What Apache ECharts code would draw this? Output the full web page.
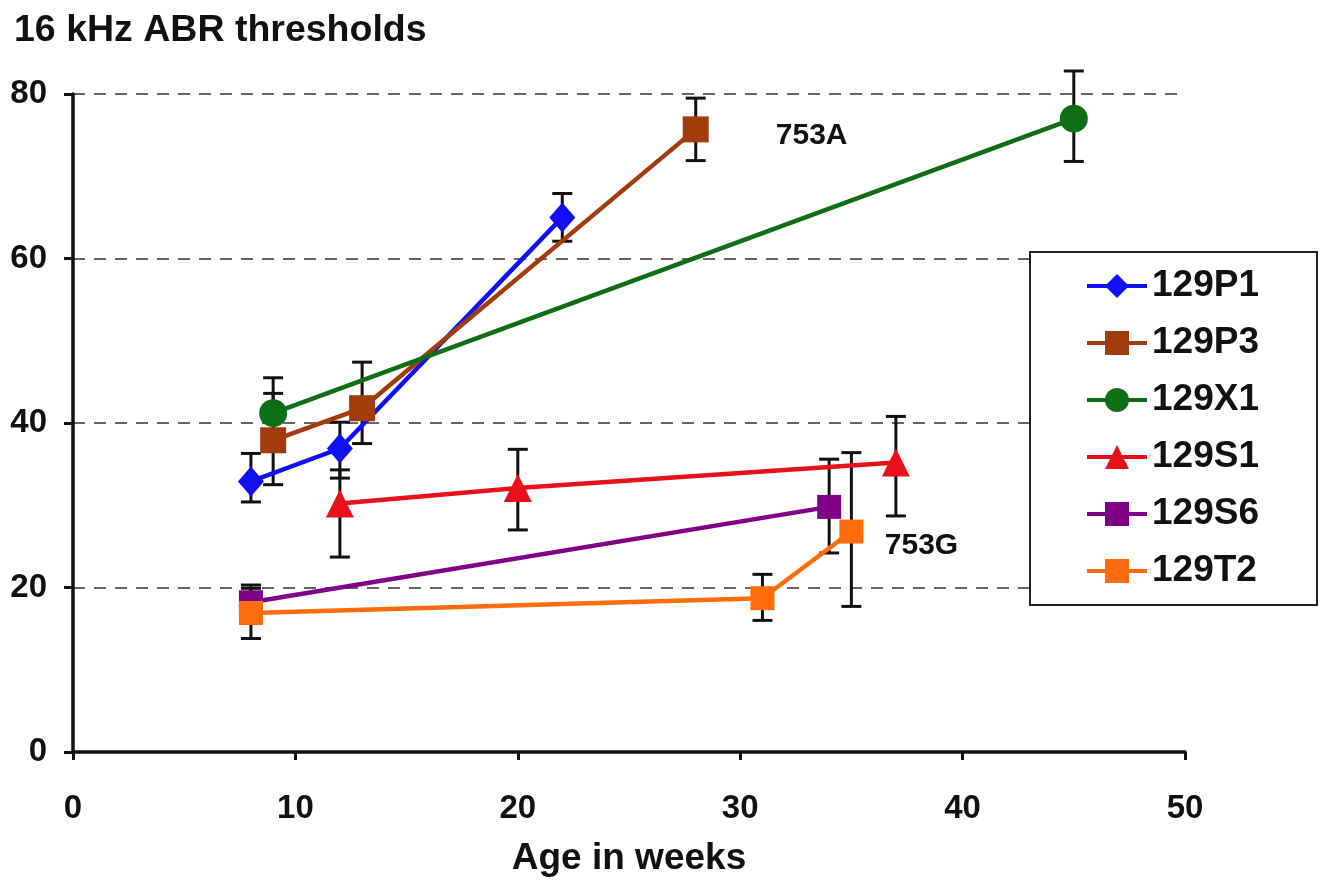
<!DOCTYPE html>
<html>
<head>
<meta charset="utf-8">
<script src="https://cdn.jsdelivr.net/npm/echarts@6/dist/echarts.min.js"></script>
<style>html,body{margin:0;padding:0;background:#fff;}#c{width:1324px;height:886px;}</style>
</head>
<body>
<div id="c"></div>
<script>
// ---- data ----
var xTicks = [0, 10, 20, 30, 40, 50];
var yTicks = [0, 20, 40, 60, 80];

var names = ['129P1', '129P3', '129X1', '129S1', '129S6', '129T2'];

var p1_x = [8, 12, 22];
var p1_y = [32.9, 36.9, 65.0];
var p1_lo = [30.4, 33.3, 62.1];
var p1_hi = [36.3, 40.1, 67.9];

var p3_x = [9, 13, 28];
var p3_y = [37.9, 41.8, 75.7];
var p3_lo = [32.5, 37.5, 71.9];
var p3_hi = [43.6, 47.4, 79.5];

var x1_x = [9, 45];
var x1_y = [41.2, 77.0];
var x1_lo = [36.9, 71.8];
var x1_hi = [45.5, 82.8];

var s1_x = [12, 20, 37];
var s1_y = [30.2, 32.1, 35.2];
var s1_lo = [23.7, 27.0, 28.7];
var s1_hi = [34.3, 36.8, 40.8];

var s6_x = [8, 34];
var s6_y = [18.2, 29.8];
var s6_lo = [16.1, 24.2];
var s6_hi = [20.3, 35.6];

var t2_x = [8, 31, 35];
var t2_y = [16.9, 18.7, 26.8];
var t2_lo = [13.8, 16.0, 17.7];
var t2_hi = [19.9, 21.6, 36.4];

var annoText = ['753A', '753G'];
var annoX = [31.6, 36.5];
var annoY = [74.9, 25.1];

// ---- build ----
var font = 'Liberation Sans, Arial, sans-serif';
var groups = [
  {name: names[0], x: p1_x, y: p1_y, lo: p1_lo, hi: p1_hi, color: '#1010f2', symbol: 'diamond', size: [26, 30]},
  {name: names[1], x: p3_x, y: p3_y, lo: p3_lo, hi: p3_hi, color: '#a33c0c', symbol: 'rect', size: 26},
  {name: names[2], x: x1_x, y: x1_y, lo: x1_lo, hi: x1_hi, color: '#0e6e14', symbol: 'circle', size: 28},
  {name: names[3], x: s1_x, y: s1_y, lo: s1_lo, hi: s1_hi, color: '#e8101a', symbol: 'triangle', size: 28},
  {name: names[4], x: s6_x, y: s6_y, lo: s6_lo, hi: s6_hi, color: '#800088', symbol: 'rect', size: 24},
  {name: names[5], x: t2_x, y: t2_y, lo: t2_lo, hi: t2_hi, color: '#ff6c0c', symbol: 'rect', size: 24}
];

var errData = [];
groups.forEach(function (g) {
  for (var i = 0; i < g.x.length; i++) errData.push([g.x[i], g.lo[i], g.hi[i]]);
});

var series = [{
  type: 'custom',
  z: 1,
  silent: true,
  data: errData,
  encode: {x: 0, y: [1, 2]},
  renderItem: function (params, api) {
    var x = api.value(0);
    var lo = api.coord([x, api.value(1)]);
    var hi = api.coord([x, api.value(2)]);
    var w = 10;
    var st = {stroke: '#111', lineWidth: 3};
    return {
      type: 'group',
      children: [
        {type: 'line', shape: {x1: lo[0], y1: lo[1], x2: hi[0], y2: hi[1]}, style: st},
        {type: 'line', shape: {x1: lo[0] - w, y1: lo[1], x2: lo[0] + w, y2: lo[1]}, style: st},
        {type: 'line', shape: {x1: hi[0] - w, y1: hi[1], x2: hi[0] + w, y2: hi[1]}, style: st}
      ]
    };
  }
}];

groups.forEach(function (g, k) {
  series.push({
    name: g.name,
    type: 'line',
    z: 3 + k,
    data: g.x.map(function (v, i) { return [v, g.y[i]]; }),
    symbol: g.symbol,
    symbolSize: g.size,
    showAllSymbol: true,
    lineStyle: {color: g.color, width: 4.5},
    itemStyle: {color: g.color},
    emphasis: {disabled: true}
  });
});

series.push({
  type: 'custom',
  z: 10,
  silent: true,
  data: annoText.map(function (t, i) { return [annoX[i], annoY[i], i]; }),
  encode: {x: 0, y: 1},
  renderItem: function (params, api) {
    var p = api.coord([api.value(0), api.value(1)]);
    return {
      type: 'text',
      style: {
        x: p[0], y: p[1], text: annoText[api.value(2)],
        fill: '#111', font: 'bold 30px ' + font,
        textAlign: 'left', textVerticalAlign: 'middle'
      }
    };
  }
});

var chart = echarts.init(document.getElementById('c'), null, {renderer: 'canvas'});
chart.setOption({
  animation: false,
  backgroundColor: '#fff',
  title: {
    text: '16 kHz ABR thresholds',
    left: 9, top: 7,
    textStyle: {fontSize: 37.5, fontWeight: 'bold', color: '#111', fontFamily: font}
  },
  grid: {left: 73, right: 139, top: 94, bottom: 134, containLabel: false},
  legend: {
    data: names,
    orient: 'vertical',
    left: 1030, top: 252,
    padding: [14, 58, 14, 55],
    itemWidth: 60, itemHeight: 30,
    itemGap: 17,
    lineStyle: {width: 4},
    borderColor: '#222', borderWidth: 2, borderRadius: 0,
    backgroundColor: '#fff',
    textStyle: {fontSize: 37, fontWeight: 'bold', color: '#111', fontFamily: font, lineHeight: 40},
    selectedMode: false
  },
  xAxis: {
    type: 'value', min: 0, max: 50, interval: 10,
    name: 'Age in weeks', nameLocation: 'middle', nameGap: 88,
    nameTextStyle: {fontSize: 37, fontWeight: 'bold', color: '#111', fontFamily: font},
    axisLine: {show: true, onZero: false, lineStyle: {color: '#111', width: 3.5}},
    axisTick: {show: true, inside: false, length: 8, lineStyle: {color: '#111', width: 3}},
    axisLabel: {
      margin: 40, fontSize: 33, fontWeight: 'bold', color: '#111', fontFamily: font,
      formatter: function (v) { return xTicks.indexOf(v) >= 0 ? String(v) : ''; }
    },
    splitLine: {show: false}
  },
  yAxis: {
    type: 'value', min: 0, max: 80, interval: 20,
    axisLine: {show: true, onZero: false, lineStyle: {color: '#111', width: 3.5}},
    axisTick: {show: true, inside: false, length: 9, lineStyle: {color: '#111', width: 3}},
    axisLabel: {
      margin: 26, fontSize: 33, fontWeight: 'bold', color: '#111', fontFamily: font,
      formatter: function (v) { return yTicks.indexOf(v) >= 0 ? String(v) : ''; }
    },
    splitLine: {show: true, lineStyle: {color: '#666', width: 2, type: [12, 9]}}
  },
  series: series
});
</script>
</body>
</html>
